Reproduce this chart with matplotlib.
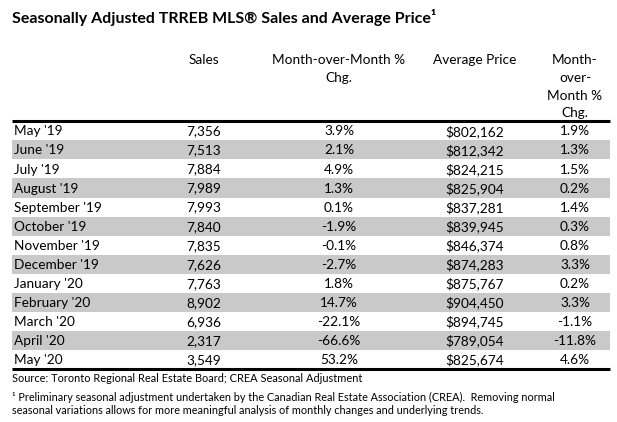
import matplotlib
matplotlib.use("Agg")
import matplotlib.pyplot as plt

plt.rcParams['font.family'] = ['Lato', 'DejaVu Sans']

months = ["May '19", "June '19", "July '19", "August '19", "September '19", "October '19",
          "November '19", "December '19", "January '20", "February '20", "March '20",
          "April '20", "May '20"]
sales = ["7,356", "7,513", "7,884", "7,989", "7,993", "7,840", "7,835", "7,626",
         "7,763", "8,902", "6,936", "2,317", "3,549"]
sales_chg = ["3.9%", "2.1%", "4.9%", "1.3%", "0.1%", "-1.9%", "-0.1%", "-2.7%",
             "1.8%", "14.7%", "-22.1%", "-66.6%", "53.2%"]
avg_price = ["$802,162", "$812,342", "$824,215", "$825,904", "$837,281", "$839,945",
             "$846,374", "$874,283", "$875,767", "$904,450", "$894,745", "$789,054",
             "$825,674"]
price_chg = ["1.9%", "1.3%", "1.5%", "0.2%", "1.4%", "0.3%", "0.8%", "3.3%", "0.2%",
             "3.3%", "-1.1%", "-11.8%", "4.6%"]
headers = [["Sales"], ["Month-over-Month %", "Chg."], ["Average Price"],
           ["Month-", "over-", "Month %", "Chg."]]

title = "Seasonally Adjusted TRREB MLS\u00ae Sales and Average Price\u00b9"
source = "Source: Toronto Regional Real Estate Board; CREA Seasonal Adjustment"
note1 = "\u00b9 Preliminary seasonal adjustment undertaken by the Canadian Real Estate Association (CREA).  Removing normal"
note2 = "seasonal variations allows for more meaningful analysis of monthly changes and underlying trends."

W, H = 617, 422
fig = plt.figure(figsize=(W / 100, H / 100), dpi=100)
ax = fig.add_axes([0, 0, 1, 1])
ax.set_xlim(0, W)
ax.set_ylim(H, 0)
ax.axis('off')

top = 121.3
rh = 19.05
left, right = 12, 610
col_x = [204, 339, 475, 575]
fs = 9.8

# shaded rows
for i in range(len(months)):
    yc = top + rh * (i + 0.5)
    if i % 2 == 1:
        ax.barh(yc, right - left, height=rh, left=left, color='#c9c9c9', linewidth=0)

ax.plot([left, right], [top, top], color='black', lw=2.2, solid_capstyle='butt')
bot = top + rh * len(months)
ax.plot([left, right], [bot, bot], color='black', lw=2.2, solid_capstyle='butt')

for i in range(len(months)):
    yc = top + rh * (i + 0.5) + 0.6
    ax.text(14, yc, months[i], ha='left', va='center', fontsize=fs)
    for x, vals in zip(col_x, [sales, sales_chg, avg_price, price_chg]):
        ax.text(x, yc, vals[i], ha='center', va='center', fontsize=fs)

for x, lines in zip(col_x, headers):
    for k, line in enumerate(lines):
        ax.text(x, 60.5 + 17.6 * k, line, ha='center', va='center', fontsize=fs)

ax.text(12, 17.5, title, ha='left', va='center', fontsize=11.5, fontweight='bold')
ax.text(12, 379, source, ha='left', va='center', fontsize=7.9)
ax.text(12, 397, note1, ha='left', va='center', fontsize=7.8)
ax.text(12, 411, note2, ha='left', va='center', fontsize=7.8)

fig.savefig('out.png', dpi=100)
